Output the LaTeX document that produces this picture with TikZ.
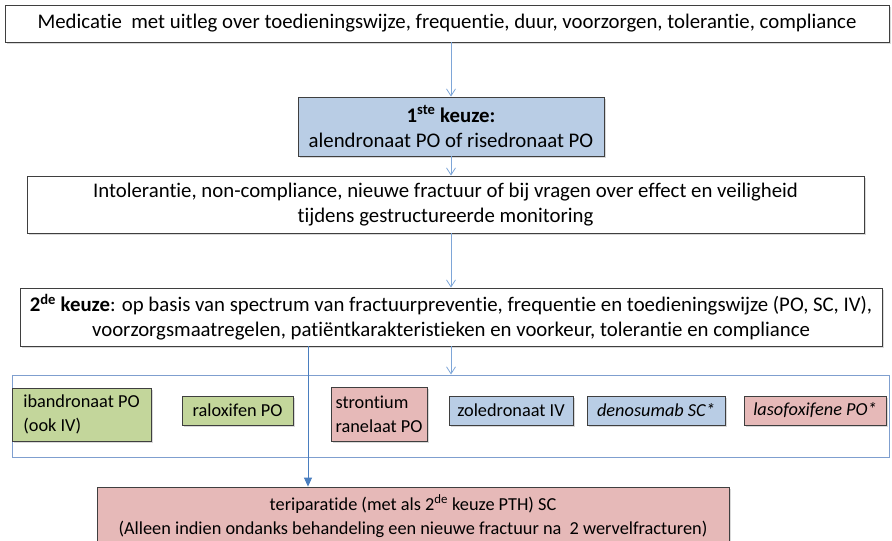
\documentclass[tikz,border=0pt]{standalone}
\usepackage{fontspec}
\setmainfont{Carlito}[Ligatures=NoCommon]
\usepackage{tikz}
\usetikzlibrary{arrows.meta,positioning,shadows}
\definecolor{lijn}{HTML}{7EA6D8}
\definecolor{lijndonker}{HTML}{4A7EBF}
\definecolor{kader}{HTML}{7F9FCF}
\definecolor{vulblauw}{HTML}{B9CDE5}
\definecolor{vulgroen}{HTML}{C3D69B}
\definecolor{vulroze}{HTML}{E6B9B8}
\definecolor{rand}{HTML}{3F3F3F}
\tikzset{
  schaduw/.style={drop shadow={shadow xshift=1.6pt,shadow yshift=-1.6pt,opacity=0.3,fill=gray}},
  blok/.style={rectangle,draw=rand,line width=0.8pt,fill=white,inner sep=3pt,align=center,schaduw,
    font=\fontsize{20.8}{25}\selectfont},
  keuze/.style={blok,fill=vulblauw},
  middel/.style={blok,inner sep=2pt,font=\fontsize{18.3}{24}\selectfont},
  groen/.style={middel,fill=vulgroen},
  blauw/.style={middel,fill=vulblauw},
  roze/.style={middel,fill=vulroze},
  groep/.style={rectangle,draw=kader,line width=1pt},
  pijl/.style={draw=lijn,line width=0.8pt,-{Straight Barb[length=7pt,width=9pt]}},
  pijlvol/.style={draw=lijndonker,line width=0.8pt,-{Triangle[length=9pt,width=8pt]}},
}
\begin{document}
\begin{tikzpicture}[x=1pt,y=-1pt]
\useasboundingbox (0,0) rectangle (892,541);
% stappen
\node[blok,minimum width=884,minimum height=37] (start) at (447,23.5)
  {Medicatie \ met uitleg over toedieningswijze, frequentie, duur, voorzorgen, tolerantie, compliance};
\node[keuze,minimum width=306,minimum height=59] (eerste) at (451,126.5)
  {\textbf{1\textsuperscript{ste} keuze:}\\alendronaat PO of risedronaat PO};
\node[blok,minimum width=837,minimum height=57] (intol) at (445.5,204.5)
  {Intolerantie, non-compliance, nieuwe fractuur of bij vragen over effect en veiligheid\\tijdens gestructureerde monitoring};
\node[blok,minimum width=862,minimum height=58] (tweede) at (451,317)
  {\textbf{2\textsuperscript{de} keuze}: op basis van spectrum van fractuurpreventie, frequentie en toedieningswijze (PO, SC, IV),\\voorzorgsmaatregelen, patiëntkarakteristieken en voorkeur, tolerantie en compliance};
% groep met alternatieven
\node[groep,minimum width=877,minimum height=82] (alt) at (450.5,416) {};
\node[groen,minimum width=139,minimum height=53,align=left] (iband) at (81.5,414.5)
  {ibandronaat PO\\(ook IV)};
\node[groen,minimum width=111,minimum height=29] (ralox) at (237.5,410.5) {raloxifen PO};
\node[roze,minimum width=96,minimum height=54,align=left] (stront) at (379,414)
  {strontium\\ranelaat PO};
\node[blauw,minimum width=124,minimum height=29] (zoled) at (511,410.5) {zoledronaat IV};
\node[blauw,minimum width=138,minimum height=29] (denos) at (656,410.5) {\textit{denosumab SC*}};
\node[roze,minimum width=142,minimum height=29] (lasof) at (815,410.5) {\textit{lasofoxifene PO*}};
\node[roze,minimum width=632,minimum height=58] (terip) at (413,516)
  {teriparatide (met als 2\textsuperscript{de} keuze PTH) SC\\(Alleen indien ondanks behandeling een nieuwe fractuur na \ 2 wervelfracturen)};
% pijlen
\coordinate (tak) at (308,0);
\draw[pijl] (start.south -| eerste.north) -- (eerste.north);
\draw[pijl] (eerste.south) -- (eerste.south |- intol.north);
\draw[pijl] (intol.south -| tweede.north) -- (tweede.north);
\draw[pijl] (tweede.south) -- (tweede.south |- alt.north);
\draw[pijlvol] (tweede.south -| tak) -- (terip.north -| tak);
\end{tikzpicture}
\end{document}
